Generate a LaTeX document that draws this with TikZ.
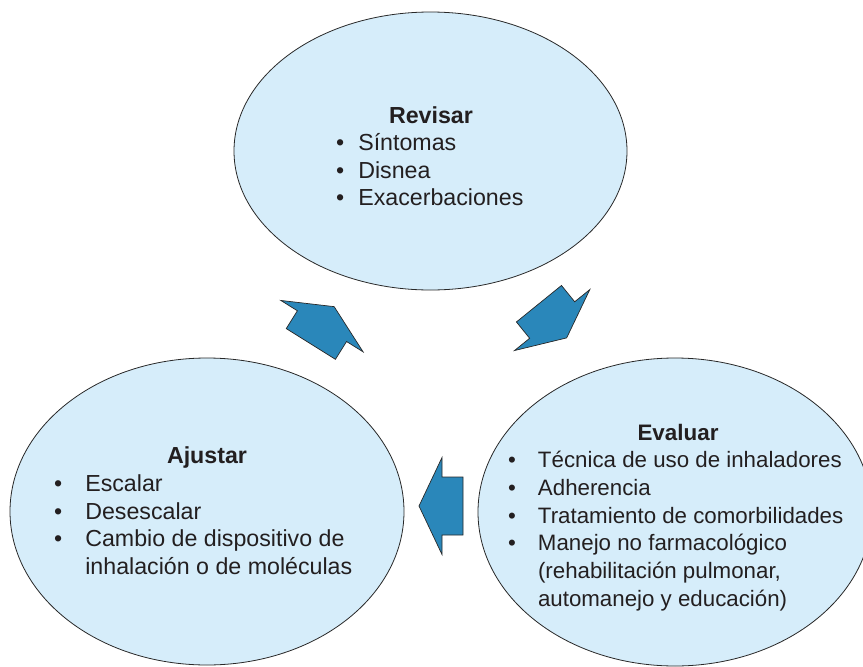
\documentclass[tikz,border=0pt]{standalone}
\usepackage{fontspec}
\setmainfont{Liberation Sans}
\usetikzlibrary{shapes.geometric}
\definecolor{ellfill}{RGB}{214,237,250}
\definecolor{arrfill}{RGB}{42,135,186}
\definecolor{edgecol}{RGB}{40,40,40}
\definecolor{txt}{RGB}{35,31,32}
\begin{document}
\begin{tikzpicture}[x=1pt,y=-1pt,
  bubble/.style={ellipse, draw=edgecol, line width=0.8pt, fill=ellfill, inner sep=0pt},
  headA/.style={font=\fontsize{23.2}{27.5}\selectfont\bfseries, anchor=base, inner sep=0pt, text=txt},
  headB/.style={font=\fontsize{22.4}{27.7}\selectfont\bfseries, anchor=base, inner sep=0pt, text=txt},
  lstA/.style={anchor=base west, inner sep=0pt, font=\fontsize{23.2}{27.5}\selectfont, text=txt},
  lstB/.style={anchor=base west, inner sep=0pt, font=\fontsize{22.3}{27.7}\selectfont, text=txt},
  blockarrow/.pic={\draw[fill=arrfill, draw=edgecol, line width=0.7pt, line join=miter]
     (22pt,0pt) -- (-1pt,48.5pt) -- (-1pt,29pt) -- (-22pt,29pt) -- (-22pt,-29pt)
     -- (-1pt,-29pt) -- (-1pt,-48.5pt) -- cycle;}
]
\useasboundingbox (0,0) rectangle (863,667);
\clip (0,0) rectangle (863,667);

% ellipses
\node[bubble, minimum width=393pt, minimum height=278pt] (rev) at (430.5,151) {};
\node[bubble, minimum width=394pt, minimum height=307pt] (aju) at (207,511.5) {};
\node[bubble, minimum width=394pt, minimum height=308pt] (eva) at (675,512) {};

% Revisar
\node[headA] (revh) at (431,123.5) {Revisar};
\node[lstA] (revl) at (336,150.5) {\begin{tabular}[t]{@{}l@{\hspace{14pt}}l@{}}
\textbullet & Síntomas\\
\textbullet & Disnea\\
\textbullet & Exacerbaciones
\end{tabular}};

% Ajustar
\node[headA] (ajuh) at (207,463.5) {Ajustar};
\node[lstA] (ajul) at (54,491.7) {\begin{tabular}[t]{@{}l@{\hspace{23pt}}l@{}}
\textbullet & Escalar\\
\textbullet & Desescalar\\
\textbullet & Cambio de dispositivo de\\
 & inhalación o de moléculas
\end{tabular}};

% Evaluar
\node[headB] (evah) at (678,440) {Evaluar};
\node[lstB] (eval) at (508,467.7) {\begin{tabular}[t]{@{}l@{\hspace{22pt}}l@{}}
\textbullet & Técnica de uso de inhaladores\\
\textbullet & Adherencia\\
\textbullet & Tratamiento de comorbilidades\\
\textbullet & Manejo no farmacológico\\
 & (rehabilitación pulmonar,\\
 & automanejo y educación)
\end{tabular}};

% block arrows
\pic[rotate=58] at (322.5,325.3) {blockarrow};
\pic[rotate=-51] at (552.8,320.8) {blockarrow};
\pic[rotate=180] at (441,506) {blockarrow};
\end{tikzpicture}
\end{document}
